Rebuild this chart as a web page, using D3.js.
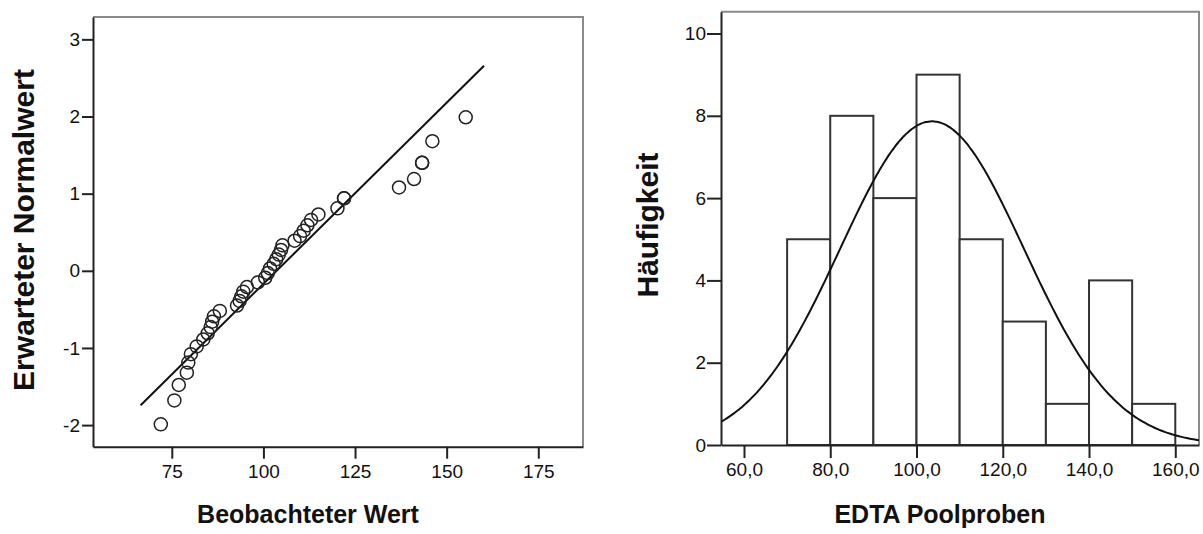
<!DOCTYPE html>
<html>
<head>
<meta charset="utf-8">
<script src="https://cdn.jsdelivr.net/npm/d3@7"></script>
<style>
  body { margin: 0; background: #fff; }
  svg { display: block; }
  text { font-family: "Liberation Sans", Arial, sans-serif; fill: #111; }
</style>
</head>
<body>
<div id="chart"></div>
<script>
const width = 1203;
const height = 534;

// Q-Q plot: observed values and their expected normal values
const observed = [
  72, 75.7, 76.9, 79.1, 79.5,
  80.2, 81.8, 83.6, 84.8, 85.6, 86, 86.5, 88.1,
  92.8, 93.5, 94, 94.5, 95.5, 98.5,
  100.5, 101.2, 101.8, 102.8, 103.5, 104.2, 104.8, 105.2, 108.5,
  110, 111, 112, 113, 115,
  120.2, 122, 122, 137, 141.1, 143.3, 143.3, 146.1, 155.2
];
const expected = [
  -1.99, -1.68, -1.48, -1.32, -1.19, -1.08, -0.98, -0.89, -0.81, -0.73,
  -0.66, -0.59, -0.52, -0.45, -0.39, -0.33, -0.27, -0.21, -0.15, -0.09,
  -0.03, 0.03, 0.09, 0.15, 0.21, 0.27, 0.33, 0.39, 0.45, 0.52,
  0.59, 0.66, 0.73, 0.81, 0.94, 0.94, 1.08, 1.19, 1.40, 1.40,
  1.68, 1.99
];
const qqTicksX = [75, 100, 125, 150, 175];
const qqTicksY = [-2, -1, 0, 1, 2, 3];
const refLineX = [66.5, 160.2]; // extent of the reference line

// Histogram
const binStarts = [70, 80, 90, 100, 110, 120, 130, 140, 150];
const binWidth = 10;
const counts = [5, 8, 6, 9, 5, 3, 1, 4, 1];
const histTicksX = [60, 80, 100, 120, 140, 160];
const histTicksY = [0, 2, 4, 6, 8, 10];

// fitted normal
const fitMean = 103.6;
const fitSd = 21.3;
const nTotal = 42;

const svg = d3.select("#chart")
  .append("svg")
  .attr("width", width)
  .attr("height", height);

const deFmt = d3.formatLocale({ decimal: ",", thousands: ".", grouping: [3], currency: ["", " €"] });

function frame(g, x, y) {
  const [x0, x1] = x.range();
  const [y0, y1] = y.range(); // y0 bottom, y1 top
  g.append("path")
    .attr("d", `M${x0},${y1}H${x1}V${y0}`)
    .attr("fill", "none")
    .attr("stroke", "#8a8a8a")
    .attr("stroke-width", 2);
}

function styleAxis(g) {
  g.selectAll(".domain").attr("stroke", "#222").attr("stroke-width", 2);
  g.selectAll(".tick line").attr("stroke", "#222").attr("stroke-width", 2);
  g.selectAll(".tick text")
    .style("font-size", "19px")
    .attr("fill", "#111");
}

// ---------- left: Q-Q plot ----------
const xQ = d3.scaleLinear().domain([53.5, 187.2]).range([93, 583]);
const yQ = d3.scaleLinear().domain([-2.28, 3.29]).range([446.7, 17]);

const left = svg.append("g");
frame(left, xQ, yQ);

left.append("g")
  .attr("transform", `translate(0,${yQ.range()[0]})`)
  .call(d3.axisBottom(xQ).tickValues(qqTicksX).tickFormat((d) => String(d)).tickSize(12).tickSizeOuter(0).tickPadding(6))
  .call(styleAxis);

left.append("g")
  .attr("transform", `translate(${xQ.range()[0]},0)`)
  .call(d3.axisLeft(yQ).tickValues(qqTicksY).tickFormat((d) => String(d)).tickSize(11).tickSizeOuter(0).tickPadding(2))
  .call(styleAxis);

left.append("line")
  .attr("x1", xQ(refLineX[0]))
  .attr("y1", yQ((refLineX[0] - fitMean) / fitSd))
  .attr("x2", xQ(refLineX[1]))
  .attr("y2", yQ((refLineX[1] - fitMean) / fitSd))
  .attr("stroke", "#111")
  .attr("stroke-width", 2);

left.selectAll(".pt")
  .data(observed.map((v, i) => ({ x: v, z: expected[i] })))
  .enter()
  .append("circle")
  .attr("class", "pt")
  .attr("cx", (d) => xQ(d.x))
  .attr("cy", (d) => yQ(d.z))
  .attr("r", 6.5)
  .attr("fill", "none")
  .attr("stroke", "#222")
  .attr("stroke-width", 1.5);

left.append("text")
  .attr("x", 308).attr("y", 523)
  .attr("text-anchor", "middle")
  .style("font-size", "25px")
  .style("font-weight", "bold")
  .text("Beobachteter Wert");

left.append("text")
  .attr("transform", "translate(34,230) rotate(-90)")
  .attr("text-anchor", "middle")
  .style("font-size", "30px")
  .style("font-weight", "bold")
  .text("Erwarteter Normalwert");

// ---------- right: histogram ----------
const xH = d3.scaleLinear().domain([54.67, 165.5]).range([721, 1199]);
const yH = d3.scaleLinear().domain([0, 10.53]).range([445, 11.7]);

const right = svg.append("g");
frame(right, xH, yH);

right.selectAll(".bar")
  .data(binStarts.map((b, i) => ({ x0: b, x1: b + binWidth, n: counts[i] })))
  .enter()
  .append("rect")
  .attr("class", "bar")
  .attr("x", (d) => xH(d.x0))
  .attr("y", (d) => yH(d.n))
  .attr("width", (d) => xH(d.x1) - xH(d.x0))
  .attr("height", (d) => yH(0) - yH(d.n))
  .attr("fill", "#fff")
  .attr("stroke", "#333")
  .attr("stroke-width", 2);

right.append("clipPath")
  .attr("id", "histClip")
  .append("rect")
  .attr("x", 721).attr("y", 11.7)
  .attr("width", 478).attr("height", 433.3);

const scaleN = nTotal * binWidth / (fitSd * Math.sqrt(2 * Math.PI));
const curveX = d3.range(xH.domain()[0], xH.domain()[1] + 0.5, 0.5);
const line = d3.line()
  .x((v) => xH(v))
  .y((v) => yH(scaleN * Math.exp(-0.5 * ((v - fitMean) / fitSd) ** 2)))
  .curve(d3.curveBasis);

right.append("path")
  .datum(curveX)
  .attr("clip-path", "url(#histClip)")
  .attr("d", line)
  .attr("fill", "none")
  .attr("stroke", "#111")
  .attr("stroke-width", 2);

right.append("g")
  .attr("transform", `translate(0,${yH.range()[0]})`)
  .call(d3.axisBottom(xH).tickValues(histTicksX).tickFormat(deFmt.format(".1f")).tickSize(13).tickSizeOuter(0).tickPadding(5))
  .call(styleAxis);

right.append("g")
  .attr("transform", `translate(${xH.range()[0]},0)`)
  .call(d3.axisLeft(yH).tickValues(histTicksY).tickSize(14).tickSizeOuter(0).tickPadding(1))
  .call(styleAxis);

right.append("text")
  .attr("x", 940).attr("y", 523)
  .attr("text-anchor", "middle")
  .style("font-size", "25px")
  .style("font-weight", "bold")
  .text("EDTA Poolproben");

right.append("text")
  .attr("transform", "translate(658,225) rotate(-90)")
  .attr("text-anchor", "middle")
  .style("font-size", "30px")
  .style("font-weight", "bold")
  .text("Häufigkeit");
</script>
</body>
</html>
